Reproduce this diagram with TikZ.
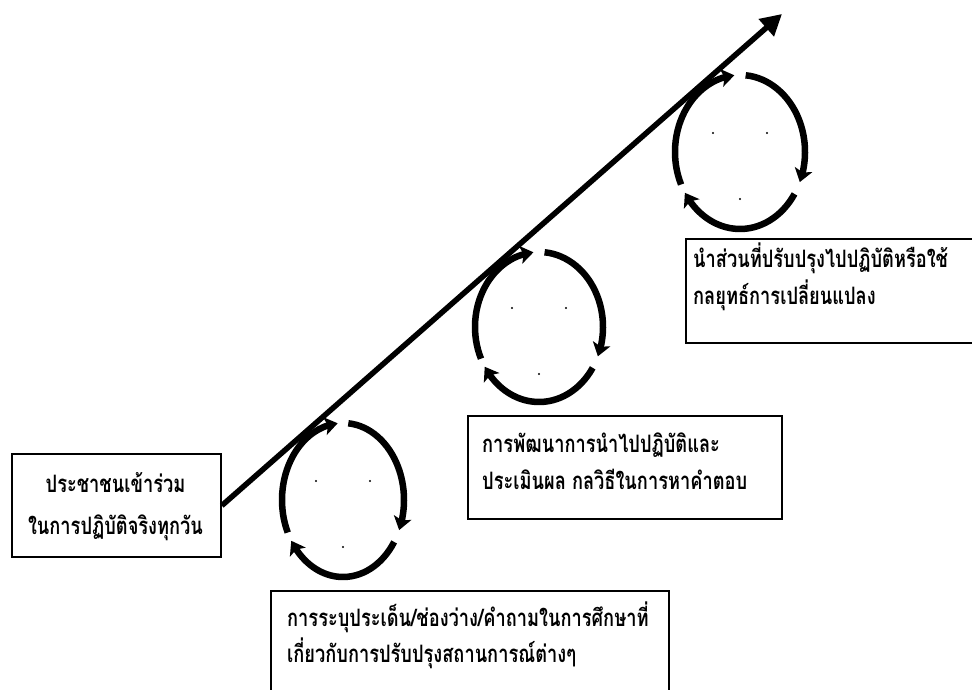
\documentclass[tikz,border=0pt]{standalone}
\usepackage{fontspec}
\newfontfamily\thaifont[Script=Thai,FakeStretch=0.76]{Loma}
\usetikzlibrary{arrows.meta,bending}
\tikzset{
  box/.style={draw=black,line width=1.8pt,inner sep=0pt,anchor=south west},
  txt/.style={font=\thaifont\bfseries\fontsize{24pt}{26pt}\selectfont,inner sep=0pt},
  cyc/.style={line width=6.5pt,-{Stealth[length=13pt,width=18pt,inset=3pt,flex]}},
  mainarrow/.style={line width=5.5pt,-{Triangle[length=21pt,width=22pt]}},
  dotmark/.style={circle,fill=black,inner sep=0pt,minimum size=2.2pt}
}
\begin{document}
\begin{tikzpicture}[x=1pt,y=1pt]
\clip (0,0) rectangle (972,690);
\fill[white] (0,0) rectangle (972,690);
% boxes
\node[box,minimum width=209pt,minimum height=103pt] (lb) at (11,132) {};
\node[box,minimum width=398pt,minimum height=130pt] (bb) at (270,-32) {};
\node[box,minimum width=314pt,minimum height=103pt] (mb) at (467,170) {};
\node[box,minimum width=320pt,minimum height=104pt] (rb) at (685,346) {};
% texts
\node[txt,anchor=base] (lt1) at (115.5,197) {ประชาชนเข้าร่วม};
\node[txt,anchor=base] (lt2) at (115.5,155) {ในการปฏิบัติจริงทุกวัน};
\node[txt,anchor=base west] (bt1) at (287,63) {การระบุประเด็น/ช่องว่าง/คำถามในการศึกษาที่};
\node[txt,anchor=base west] (bt2) at (287,27) {เกี่ยวกับการปรับปรุงสถานการณ์ต่างๆ};
\node[txt,anchor=base west] (mt1) at (482,237) {การพัฒนาการนำไปปฏิบัติและ};
\node[txt,anchor=base west] (mt2) at (482,200) {ประเมินผล กลวิธีในการหาคำตอบ};
\node[txt,anchor=base west] (rt1) at (693,422) {นำส่วนที่ปรับปรุงไปปฏิบัติหรือใช้};
\node[txt,anchor=base west] (rt2) at (693,385) {กลยุทธ์การเปลี่ยนแปลง};
% main arrow
\coordinate (tip) at (782,676);
\draw[mainarrow] (lb.east) -- (tip);
% cycles
\foreach \name/\cx/\cy/\rx/\ry in {c1/343/190/61/77, c2/539/363/64/75, c3/740/538/65/77}{
  \coordinate (\name) at (\cx,\cy);
  \draw[cyc] (\name) ++(205:\rx pt and \ry pt) arc[start angle=205,end angle=95,x radius=\rx pt,y radius=\ry pt];
  \draw[cyc] (\name) ++(85:\rx pt and \ry pt) arc[start angle=85,end angle=-23,x radius=\rx pt,y radius=\ry pt];
  \draw[cyc] (\name) ++(-33:\rx pt and \ry pt) arc[start angle=-33,end angle=-148,x radius=\rx pt,y radius=\ry pt];
  \node[dotmark] (\name a) at ([shift={(-27pt,19pt)}]\name) {};
  \node[dotmark] (\name b) at ([shift={(27pt,19pt)}]\name) {};
  \node[dotmark] (\name c) at ([shift={(0pt,-47pt)}]\name) {};
}
\end{tikzpicture}
\end{document}
